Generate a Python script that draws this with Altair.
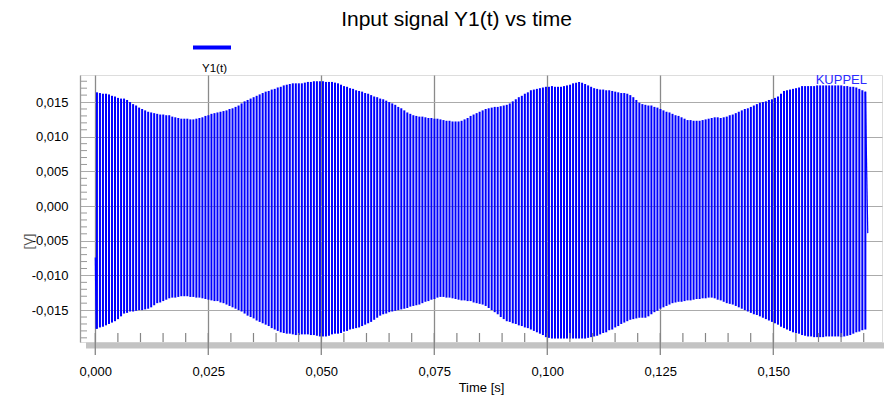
import altair as alt
import pandas as pd

# ---- values ----
PERIOD = 1 / 1500          # carrier period (s), from the bar spacing
T_FIRST_CYCLE = 0.0002     # s, first trough
START_POINT = (0.0, -0.0074)
END_POINT = (0.1709, -0.0039)

peaks = [
    0.0164, 0.0163, 0.0162, 0.0162, 0.0161, 0.0159, 0.0158, 0.0156, 0.0155, 0.0155,
    0.0153, 0.0150, 0.0147, 0.0145, 0.0142, 0.0140, 0.0138, 0.0136, 0.0135, 0.0134,
    0.0133, 0.0132, 0.0132, 0.0131, 0.0131, 0.0129, 0.0128, 0.0127, 0.0126, 0.0126,
    0.0126, 0.0125, 0.0125, 0.0126, 0.0127, 0.0128, 0.0130, 0.0131, 0.0133, 0.0134,
    0.0135, 0.0136, 0.0137, 0.0138, 0.0140, 0.0141, 0.0143, 0.0145, 0.0148, 0.0151,
    0.0153, 0.0155, 0.0157, 0.0159, 0.0161, 0.0163, 0.0165, 0.0166, 0.0168, 0.0169,
    0.0171, 0.0172, 0.0174, 0.0175, 0.0176, 0.0177, 0.0177, 0.0177, 0.0177, 0.0178,
    0.0179, 0.0179, 0.0180, 0.0180, 0.0180, 0.0180, 0.0179, 0.0179, 0.0179, 0.0178,
    0.0177, 0.0175, 0.0173, 0.0172, 0.0170, 0.0169, 0.0167, 0.0166, 0.0165, 0.0163,
    0.0162, 0.0160, 0.0158, 0.0157, 0.0155, 0.0154, 0.0152, 0.0150, 0.0148, 0.0146,
    0.0143, 0.0141, 0.0138, 0.0135, 0.0133, 0.0131, 0.0130, 0.0129, 0.0129, 0.0128,
    0.0127, 0.0127, 0.0126, 0.0126, 0.0125, 0.0124, 0.0123, 0.0123, 0.0122, 0.0122,
    0.0122, 0.0123, 0.0125, 0.0127, 0.0130, 0.0132, 0.0134, 0.0136, 0.0138, 0.0140,
    0.0141, 0.0142, 0.0143, 0.0143, 0.0144, 0.0145, 0.0146, 0.0148, 0.0151, 0.0154,
    0.0157, 0.0159, 0.0162, 0.0164, 0.0167, 0.0168, 0.0169, 0.0170, 0.0171, 0.0172,
    0.0172, 0.0173, 0.0172, 0.0172, 0.0172, 0.0173, 0.0174, 0.0175, 0.0177, 0.0178,
    0.0179, 0.0178, 0.0176, 0.0174, 0.0172, 0.0170, 0.0169, 0.0168, 0.0168, 0.0167,
    0.0167, 0.0166, 0.0165, 0.0164, 0.0163, 0.0163, 0.0162, 0.0160, 0.0157, 0.0153,
    0.0149, 0.0147, 0.0146, 0.0145, 0.0145, 0.0143, 0.0142, 0.0140, 0.0138, 0.0136,
    0.0135, 0.0133, 0.0131, 0.0130, 0.0128, 0.0126, 0.0124, 0.0124, 0.0123, 0.0123,
    0.0123, 0.0124, 0.0125, 0.0126, 0.0127, 0.0128, 0.0128, 0.0127, 0.0128, 0.0129,
    0.0131, 0.0132, 0.0134, 0.0136, 0.0138, 0.0140, 0.0141, 0.0143, 0.0145, 0.0147,
    0.0149, 0.0150, 0.0151, 0.0153, 0.0154, 0.0156, 0.0158, 0.0162, 0.0166, 0.0167,
    0.0168, 0.0169, 0.0170, 0.0171, 0.0173, 0.0173, 0.0173, 0.0173, 0.0173, 0.0174,
    0.0174, 0.0174, 0.0174, 0.0174, 0.0174, 0.0174, 0.0174, 0.0174, 0.0173, 0.0173,
    0.0172, 0.0172, 0.0171, 0.0169, 0.0167, 0.0165,
]

troughs = [
    -0.0177, -0.0175, -0.0174, -0.0172, -0.0170, -0.0168, -0.0166, -0.0163, -0.0159, -0.0155,
    -0.0154, -0.0152, -0.0152, -0.0151, -0.0150, -0.0150, -0.0149, -0.0148, -0.0146, -0.0143,
    -0.0140, -0.0139, -0.0137, -0.0135, -0.0133, -0.0132, -0.0132, -0.0131, -0.0130, -0.0130,
    -0.0130, -0.0131, -0.0131, -0.0132, -0.0132, -0.0133, -0.0134, -0.0135, -0.0136, -0.0137,
    -0.0137, -0.0139, -0.0140, -0.0142, -0.0144, -0.0146, -0.0148, -0.0150, -0.0152, -0.0155,
    -0.0158, -0.0160, -0.0162, -0.0165, -0.0167, -0.0169, -0.0171, -0.0173, -0.0176, -0.0178,
    -0.0180, -0.0182, -0.0183, -0.0184, -0.0184, -0.0185, -0.0186, -0.0186, -0.0185, -0.0185,
    -0.0185, -0.0186, -0.0186, -0.0187, -0.0188, -0.0188, -0.0188, -0.0187, -0.0185, -0.0184,
    -0.0184, -0.0183, -0.0181, -0.0180, -0.0178, -0.0177, -0.0176, -0.0175, -0.0173, -0.0171,
    -0.0169, -0.0167, -0.0164, -0.0161, -0.0158, -0.0156, -0.0155, -0.0153, -0.0152, -0.0151,
    -0.0150, -0.0149, -0.0148, -0.0147, -0.0145, -0.0144, -0.0143, -0.0142, -0.0140, -0.0138,
    -0.0137, -0.0135, -0.0134, -0.0132, -0.0131, -0.0131, -0.0132, -0.0132, -0.0133, -0.0134,
    -0.0135, -0.0136, -0.0136, -0.0137, -0.0137, -0.0139, -0.0140, -0.0141, -0.0142, -0.0144,
    -0.0147, -0.0150, -0.0153, -0.0156, -0.0160, -0.0163, -0.0166, -0.0167, -0.0169, -0.0170,
    -0.0172, -0.0173, -0.0175, -0.0176, -0.0178, -0.0180, -0.0182, -0.0184, -0.0186, -0.0189,
    -0.0190, -0.0191, -0.0191, -0.0191, -0.0191, -0.0191, -0.0191, -0.0191, -0.0191, -0.0191,
    -0.0191, -0.0191, -0.0191, -0.0190, -0.0189, -0.0188, -0.0187, -0.0185, -0.0183, -0.0182,
    -0.0179, -0.0178, -0.0175, -0.0173, -0.0170, -0.0168, -0.0166, -0.0164, -0.0163, -0.0162,
    -0.0161, -0.0161, -0.0161, -0.0159, -0.0156, -0.0153, -0.0151, -0.0148, -0.0146, -0.0144,
    -0.0142, -0.0140, -0.0139, -0.0138, -0.0138, -0.0137, -0.0136, -0.0136, -0.0135, -0.0134,
    -0.0134, -0.0133, -0.0133, -0.0132, -0.0132, -0.0133, -0.0135, -0.0136, -0.0138, -0.0140,
    -0.0141, -0.0142, -0.0144, -0.0146, -0.0148, -0.0150, -0.0152, -0.0154, -0.0156, -0.0157,
    -0.0159, -0.0161, -0.0163, -0.0165, -0.0167, -0.0169, -0.0171, -0.0174, -0.0176, -0.0178,
    -0.0180, -0.0182, -0.0183, -0.0184, -0.0186, -0.0187, -0.0188, -0.0188, -0.0189, -0.0189,
    -0.0189, -0.0189, -0.0188, -0.0188, -0.0188, -0.0188, -0.0188, -0.0189, -0.0188, -0.0187,
    -0.0186, -0.0184, -0.0182, -0.0181, -0.0179, -0.0178,
]

x_major = [0.000, 0.025, 0.050, 0.075, 0.100, 0.125, 0.150]
x_minor = [0.005, 0.010, 0.015, 0.020, 0.030, 0.035, 0.040, 0.045, 0.055, 0.060,
           0.065, 0.070, 0.080, 0.085, 0.090, 0.095, 0.105, 0.110, 0.115, 0.120,
           0.130, 0.135, 0.140, 0.145, 0.155, 0.160, 0.165, 0.170]
y_major = [-0.015, -0.010, -0.005, 0.000, 0.005, 0.010, 0.015]
y_minor = [-0.019, -0.018, -0.017, -0.016, -0.014, -0.013, -0.012, -0.011, -0.009,
           -0.008, -0.007, -0.006, -0.004, -0.003, -0.002, -0.001, 0.001, 0.002,
           0.003, 0.004, 0.006, 0.007, 0.008, 0.009, 0.011, 0.012, 0.013, 0.014,
           0.016, 0.017, 0.018]

TITLE = "Input signal Y1(t) vs time"
SERIES = "Y1(t)"
X_TITLE = "Time [s]"
Y_TITLE = "[V]"
TAG = "KUPPEL"

# ---- one swing (trough -> peak) per carrier cycle ----
cycles = pd.DataFrame({
    "t": [T_FIRST_CYCLE + (k + 0.25) * PERIOD for k in range(len(peaks))],
    "v": troughs,
    "v2": peaks,
})
# the partial swings at the very start and end of the record
t_last_peak = T_FIRST_CYCLE + (len(peaks) - 0.75) * PERIOD
edges = pd.DataFrame({
    "t": [START_POINT[0], T_FIRST_CYCLE, t_last_peak, END_POINT[0]],
    "v": [START_POINT[1], troughs[0], peaks[-1], END_POINT[1]],
    "seg": ["start", "start", "end", "end"],
})

W, H = 802, 267
BLUE = "#0000ff"
FONT = "Liberation Sans"

xs = alt.Scale(domain=[-0.00338, 0.17405], nice=False, zero=False)
ys = alt.Scale(domain=[-0.0196, 0.0189], nice=False, zero=False)
lab = "replace(replace(datum.label, '.', ','), '\u2212', '-')"

x_axis = alt.Axis(
    values=x_major, format=".3f", labelExpr=lab, title=X_TITLE,
    grid=True, gridColor="#8a8a8a", gridWidth=1.3, ticks=False, domain=False,
    labelPadding=23, labelFontSize=13, labelFont=FONT, labelColor="#000",
    titleFontSize=13, titleFont=FONT, titleFontWeight="normal", titleColor="#000",
    titlePadding=3)
y_axis = alt.Axis(
    values=y_major, format=".3f", labelExpr=lab, title=Y_TITLE,
    grid=True, gridColor="#ababab", gridWidth=1, ticks=False, tickSize=0,
    domain=True, domainColor="#999999", domainWidth=1.3,
    labelPadding=12, labelFontSize=13, labelFont=FONT, labelColor="#000",
    titleFontSize=13, titleFont=FONT, titleFontWeight="normal", titleColor="#555",
    titleX=-52, titleY=166, titleAngle=270, titleBaseline="middle")

X = alt.X("t:Q", scale=xs, axis=x_axis)
Y = alt.Y("v:Q", scale=ys, axis=y_axis)

swings = alt.Chart(cycles).mark_rule(color=BLUE, strokeWidth=2).encode(
    x=X, y=Y, y2="v2:Q")
edge_lines = alt.Chart(edges).mark_line(color=BLUE, strokeWidth=1.2).encode(
    x=X, y=Y, detail="seg:N")

band = alt.Chart(pd.DataFrame({"a": [0]})).mark_rect(color="#c3c3c3").encode(
    x=alt.value(6), x2=alt.value(W + 2), y=alt.value(H + 0.5), y2=alt.value(H + 6.5))

xmin_df = pd.DataFrame({"t": x_minor})
xmaj_df = pd.DataFrame({"t": x_major})
ymin_df = pd.DataFrame({"v": y_minor})

xminor_ticks = alt.Chart(xmin_df).mark_rule(color="#858585", strokeWidth=1.2).encode(
    x=X, y=alt.value(H - 9), y2=alt.value(H))
xmajor_ticks = alt.Chart(xmaj_df).mark_rule(color="#858585", strokeWidth=1.3).encode(
    x=X, y=alt.value(H - 9), y2=alt.value(H + 13))
yminor_ticks = alt.Chart(ymin_df).mark_rule(color="#999999", strokeWidth=1).encode(
    y=Y, x=alt.value(0), x2=alt.value(7))

leg_df = pd.DataFrame({"s": [SERIES]})
leg_line = alt.Chart(leg_df).mark_rule(color=BLUE, strokeWidth=4).encode(
    x=alt.value(113), x2=alt.value(151), y=alt.value(-27.5))
leg_text = alt.Chart(leg_df).mark_text(font=FONT, fontSize=11.5, color="#000",
                                       align="center", baseline="middle").encode(
    text="s:N", x=alt.value(134.5), y=alt.value(-6))

tag = alt.Chart(pd.DataFrame({"s": [TAG]})).mark_text(
    font=FONT, fontSize=13, color="#2b2bff", align="right", baseline="top").encode(
    text="s:N", x=alt.value(W - 15), y=alt.value(-1))

chart = alt.layer(swings, edge_lines, band, xminor_ticks, xmajor_ticks, yminor_ticks,
                  leg_line, leg_text, tag).properties(
    width=W, height=H,
    autosize=alt.AutoSizeParams(type="none"),
    padding={"left": 80, "top": 75, "right": 2, "bottom": 57},
    title=alt.TitleParams(TITLE, font=FONT, fontSize=21, fontWeight="normal",
                          color="#000", anchor="middle", dx=-24.5, offset=-1,
                          baseline="alphabetic"),
).configure_view(stroke="#999999", strokeWidth=1.3).configure(background="white")

chart.save("out.html", embed_options={"renderer": "svg", "actions": False})
